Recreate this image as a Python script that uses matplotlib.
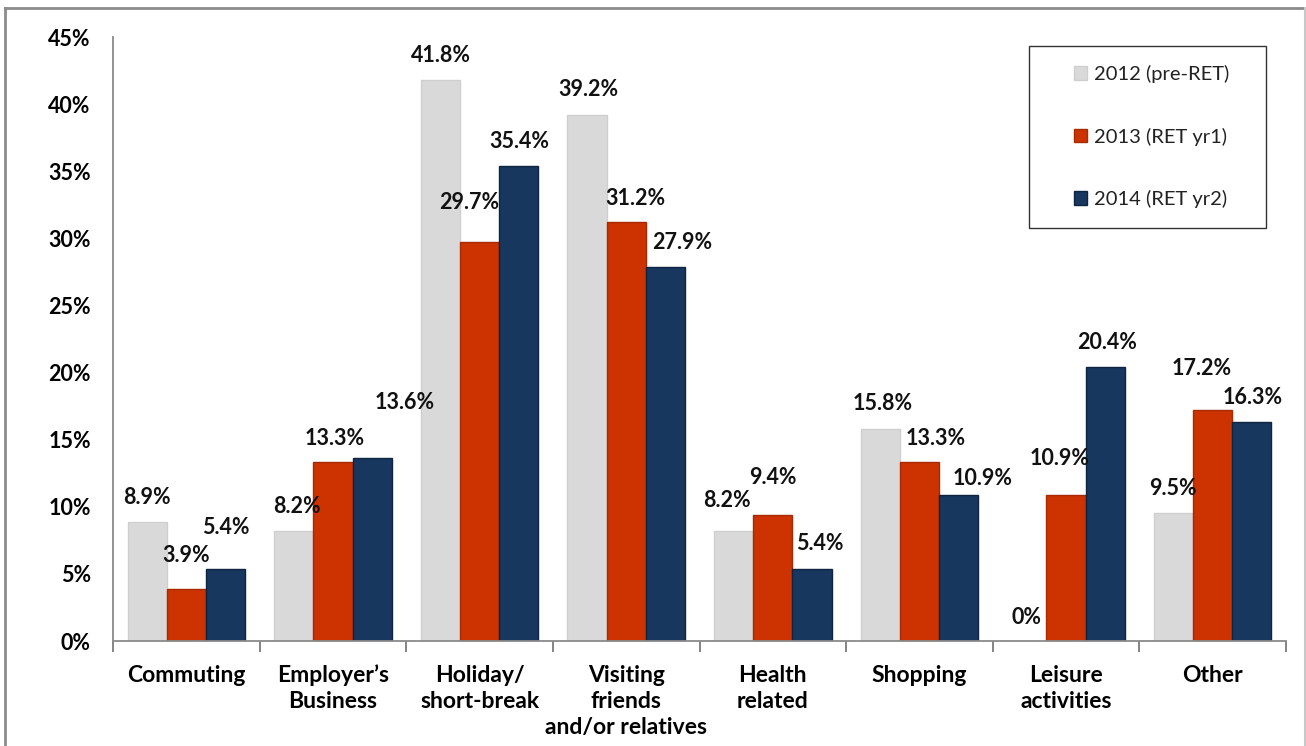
import matplotlib
matplotlib.use("Agg")
import matplotlib.pyplot as plt
from matplotlib.patches import Rectangle
from matplotlib.lines import Line2D
import numpy as np

categories = ["Commuting", "Employer\u2019s\nBusiness", "Holiday/\nshort-break",
              "Visiting\nfriends\nand/or relatives", "Health\nrelated", "Shopping",
              "Leisure\nactivities", "Other"]
series_names = ["2012 (pre-RET)", "2013 (RET yr1)", "2014 (RET yr2)"]
v2012 = [8.9, 8.2, 41.8, 39.2, 8.2, 15.8, 0, 9.5]
v2013 = [3.9, 13.3, 29.7, 31.2, 9.4, 13.3, 10.9, 17.2]
v2014 = [5.4, 13.6, 35.4, 27.9, 5.4, 10.9, 20.4, 16.3]
yticks = [0, 5, 10, 15, 20, 25, 30, 35, 40, 45]

colors = ["#D9D9D9", "#CC3300", "#17375E"]
edges = ["#CFCFCF", "#A82A00", "#0E2440"]

# label offsets (pixels, dx, dy above bar top) -- layout only
lab_off = [
    [(0, 24), (3, 24), (1, 24), (1, 25), (-7, 30), (2, 25), (0, 23), (-1, 25)],
    [(0, 33), (2, 24), (-10, 40), (9, 24), (0, 37), (16, 24), (-6, 36), (-11, 42)],
    [(0, 41), (33, 56), (1, 24), (17, 24), (8, 25), (24, 16), (2, 25), (1, 25)],
]

W, H = 1306, 746
fig = plt.figure(figsize=(W / 100, H / 100), dpi=100)
ax = fig.add_axes([113 / W, (H - 641) / H, (1286 - 113) / W, (641 - 37) / H])

FONT = "Lato"
x = np.arange(len(categories))
bw = 0.267
for i, vals in enumerate([v2012, v2013, v2014]):
    xs = x + (i - 1) * bw
    ax.bar(xs, vals, width=bw, color=colors[i], edgecolor=edges[i], linewidth=1.0,
           label=series_names[i], zorder=2)
    for j, v in enumerate(vals):
        dx, dy = lab_off[i][j]
        ax.annotate(f"{v:g}%", xy=(xs[j], v), xytext=(dx, dy), textcoords="offset pixels",
                    ha="center", va="center", fontsize=15.5, fontweight="bold",
                    family=FONT, color="#111111", zorder=3)

ax.set_xlim(-0.5, len(categories) - 0.5)
ax.set_ylim(0, 45)
ax.set_yticks(yticks)
ax.set_yticklabels([f"{t}%" for t in yticks], fontsize=15.5, fontweight="bold", family=FONT)
ax.tick_params(axis="y", length=0, pad=16)
ax.set_xticks(x)
ax.set_xticklabels(categories, fontsize=16.5, fontweight="bold", family=FONT, linespacing=1.3)
ax.tick_params(axis="x", which="major", length=0, pad=17)
ax.set_xticks(np.arange(-0.5, len(categories), 1.0), minor=True)
ax.tick_params(axis="x", which="minor", length=8, width=1.2, color="#707070", direction="out")
for s in ["top", "right"]:
    ax.spines[s].set_visible(False)
for s in ["left", "bottom"]:
    ax.spines[s].set_color("#8A8A8A")
    ax.spines[s].set_linewidth(1.3)

# legend
leg_box = Rectangle((1029 / W, 1 - 228 / H), (1266 - 1029) / W, (228 - 46) / H,
                    transform=fig.transFigure, fill=False, edgecolor="#333333", linewidth=1.0)
fig.add_artist(leg_box)
leg = ax.legend(loc="upper left", bbox_to_anchor=(1064 / W, 1 - 55 / H),
                bbox_transform=fig.transFigure, frameon=False,
                prop={"family": FONT, "size": 14.5}, handlelength=0.65, handleheight=0.65,
                handletextpad=0.35, labelspacing=2.2, borderpad=0)
for t in leg.get_texts():
    t.set_color("#222222")

# outer frame
fc = "#8C8C8C"
fig.add_artist(Line2D([5 / W, 5 / W], [0, 1 - 8 / H], transform=fig.transFigure, color=fc, lw=2))
fig.add_artist(Line2D([5 / W, 1305 / W], [1 - 8 / H, 1 - 8 / H], transform=fig.transFigure, color=fc, lw=2))
fig.add_artist(Line2D([1305 / W, 1305 / W], [0, 1 - 8 / H], transform=fig.transFigure, color="#C8C8C8", lw=1.5))

fig.savefig("out.png", dpi=100)
